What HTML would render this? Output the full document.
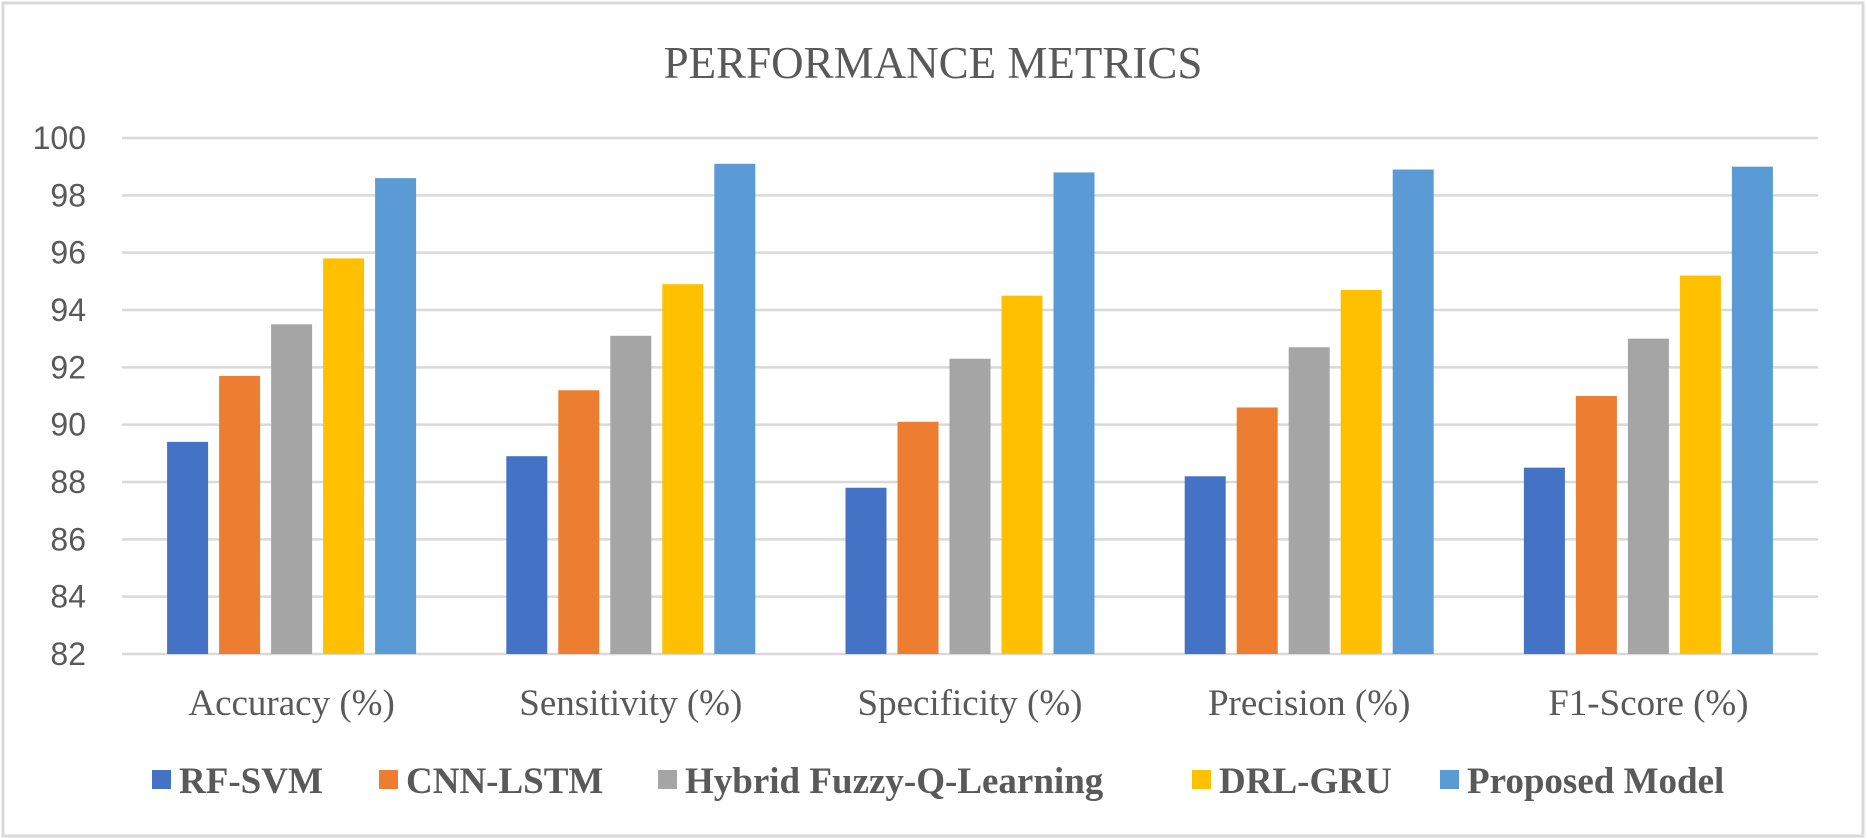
<!DOCTYPE html>
<html><head><meta charset="utf-8"><style>
html,body{margin:0;padding:0;background:#fff;}
svg{display:block;}
</style></head><body>
<svg id="chart" width="1867" height="839" xmlns="http://www.w3.org/2000/svg">
<rect x="3" y="3" width="1860" height="833" fill="#fff" stroke="#d9d9d9" stroke-width="3"/>
<text x="933" y="78" text-anchor="middle" font-family="Liberation Serif, serif" font-size="45" fill="#595959">PERFORMANCE METRICS</text>
<g id="grid"></g><g id="bars"></g><g id="labels"></g><g id="legend"></g>
</svg>
<script>
const categories = ["Accuracy (%)", "Sensitivity (%)", "Specificity (%)", "Precision (%)", "F1-Score (%)"];
const seriesNames = ["RF-SVM", "CNN-LSTM", "Hybrid Fuzzy-Q-Learning", "DRL-GRU", "Proposed Model"];
const rfSvm = [89.4, 88.9, 87.8, 88.2, 88.5];
const cnnLstm = [91.7, 91.2, 90.1, 90.6, 91.0];
const hybridFuzzy = [93.5, 93.1, 92.3, 92.7, 93.0];
const drlGru = [95.8, 94.9, 94.5, 94.7, 95.2];
const proposed = [98.6, 99.1, 98.8, 98.9, 99.0];
const yTicks = [82, 84, 86, 88, 90, 92, 94, 96, 98, 100];

const series = [rfSvm, cnnLstm, hybridFuzzy, drlGru, proposed];
const colors = ["#4472C4", "#ED7D31", "#A5A5A5", "#FFC000", "#5B9BD5"];
const NS = "http://www.w3.org/2000/svg";
const plotL = 122, plotR = 1818, yMin = 82, yMax = 100, yTop = 138, yBot = 654;
function yScale(v){ return yBot - (v - yMin) / (yMax - yMin) * (yBot - yTop); }
const catW = (plotR - plotL) / categories.length;
function xCat(i){ return plotL + i * catW; }
const barW = 41, barGap = 11;
function mk(tag, attrs, parent){ const e = document.createElementNS(NS, tag); for (const k in attrs) e.setAttribute(k, attrs[k]); parent.appendChild(e); return e; }

const grid = document.getElementById('grid');
yTicks.forEach(t => {
  const y = yScale(t);
  const l = mk('line', {x1: plotL, x2: plotR, y1: y, y2: y, stroke: '#d9d9d9', 'stroke-width': 2.5}, grid);
  
  
  const tx = mk('text', {x: 86, y: y + 11, 'text-anchor': 'end', 'font-family': 'Liberation Sans, sans-serif', 'font-size': 32, fill: '#595959'}, grid);
  tx.textContent = t;
  
  
});

const bars = document.getElementById('bars');
const labels = document.getElementById('labels');
const groupW = series.length * barW + (series.length - 1) * barGap;
categories.forEach((c, i) => {
  const x0 = xCat(i) + (catW - groupW) / 2;
  series.forEach((s, j) => {
    const y = yScale(s[i]);
    const r = mk('rect', {x: x0 + j * (barW + barGap), y: y, width: barW, height: yBot - y, fill: colors[j]}, bars);
    
    
  });
  const t = mk('text', {x: xCat(i) + catW / 2, y: 715, 'text-anchor': 'middle', 'font-family': 'Liberation Serif, serif', 'font-size': 37, fill: '#595959'}, labels);
  t.textContent = c;
  
  
});

const legend = document.getElementById('legend');
const legendX = [152, 379, 658, 1192, 1440];
seriesNames.forEach((n, j) => {
  const g = mk('g', {}, legend);
  
  
  mk('rect', {x: legendX[j], y: 770, width: 19, height: 19, fill: colors[j]}, g);
  const t = mk('text', {x: legendX[j] + 27, y: 793, 'font-family': 'Liberation Serif, serif', 'font-weight': 'bold', 'font-size': 37, fill: '#595959'}, g);
  t.textContent = n;
});
</script>
</body></html>
